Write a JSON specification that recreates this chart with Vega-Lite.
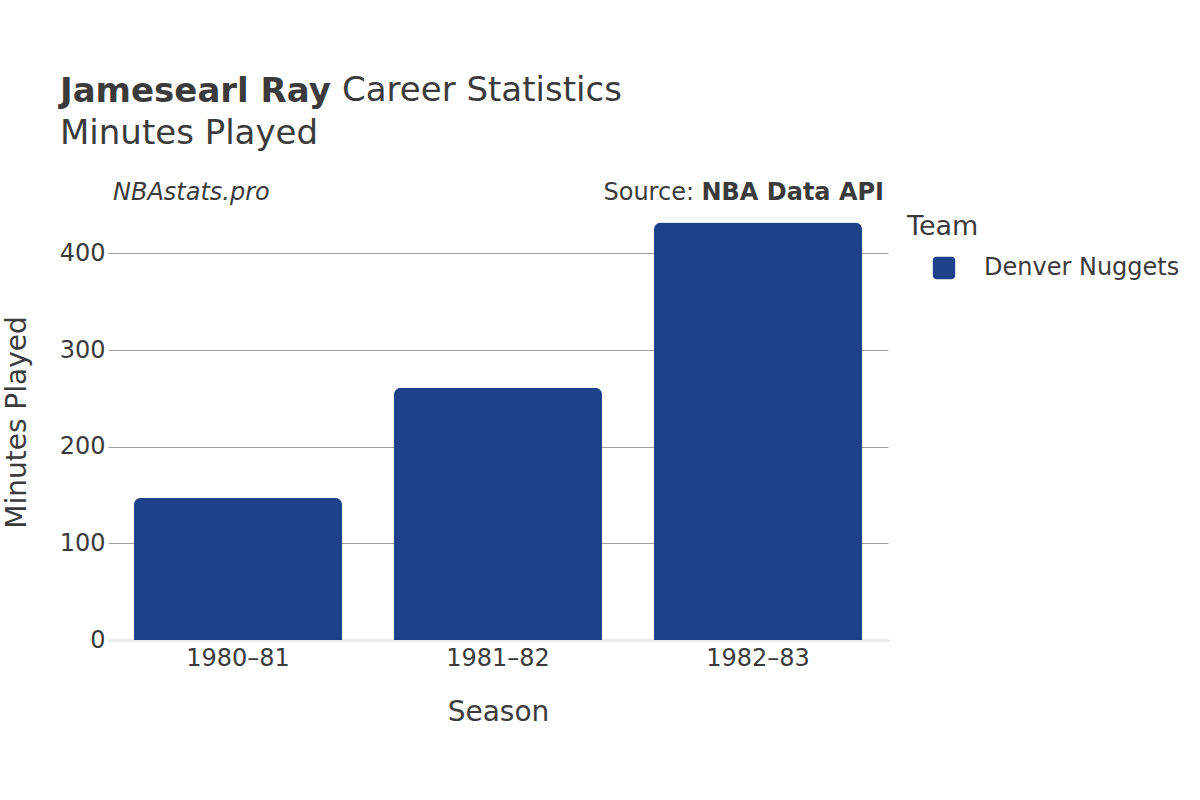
{
  "$schema": "https://vega.github.io/schema/vega-lite/v6.json",
  "width": 780,
  "height": 435,
  "autosize": {"type": "none"},
  "padding": {"left": 108, "top": 205, "right": 312, "bottom": 160},
  "background": "white",
  "config": {"font": "DejaVu Sans", "view": {"stroke": null}},
  "title": {
    "text": "Jamesearl Ray",
    "subtitle": "Minutes Played",
    "anchor": "start",
    "frame": "group",
    "dx": -48,
    "fontSize": 34,
    "fontWeight": "bold",
    "color": "#3b3b3b",
    "subtitleFontSize": 34,
    "subtitleFontWeight": "normal",
    "subtitleColor": "#3b3b3b",
    "subtitlePadding": 8,
    "offset": -77
  },
  "layer": [
    {
      "data": {"values": [
        {"season": "1980–81", "team": "Denver Nuggets", "minutes": 147},
        {"season": "1981–82", "team": "Denver Nuggets", "minutes": 261},
        {"season": "1982–83", "team": "Denver Nuggets", "minutes": 432}
      ]},
      "mark": {"type": "bar", "cornerRadiusTopLeft": 7, "cornerRadiusTopRight": 7},
      "encoding": {
        "x": {
          "field": "season", "type": "nominal", "sort": null,
          "scale": {"paddingInner": 0.2, "paddingOuter": 0.1},
          "axis": {
            "title": "Season", "titleFontSize": 28, "titleFontWeight": "normal", "titleColor": "#3b3b3b",
            "titleY": 72, "titleBaseline": "middle",
            "labelFontSize": 24, "labelColor": "#3b3b3b", "labelAngle": 0, "labelPadding": 6,
            "ticks": false, "domainColor": "#ebebeb", "domainWidth": 3.5
          }
        },
        "y": {
          "field": "minutes", "type": "quantitative",
          "scale": {"domain": [0, 450]},
          "axis": {
            "title": "Minutes Played", "titleFontSize": 28, "titleFontWeight": "normal", "titleColor": "#3b3b3b",
            "titleX": -91, "titleY": 217, "titleAngle": -90, "titleAlign": "center", "titleBaseline": "middle",
            "labelFontSize": 24, "labelColor": "#3b3b3b", "labelPadding": 3,
            "ticks": false, "domain": false, "gridColor": "#a0a0a0", "gridWidth": 1,
            "values": [0, 100, 200, 300, 400]
          }
        },
        "color": {
          "field": "team", "type": "nominal",
          "scale": {"range": ["#1d428a"]},
          "legend": {
            "title": "Team", "orient": "none", "legendX": 799, "legendY": 9,
            "titleFontSize": 27, "titleFontWeight": "normal", "titleColor": "#3b3b3b", "titlePadding": 15,
            "labelFontSize": 24, "labelColor": "#3b3b3b", "labelOffset": 28, "labelLimit": 400,
            "symbolType": "M-0.7,-1H0.7A0.3,0.3 0 0 1 1,-0.7V0.7A0.3,0.3 0 0 1 0.7,1H-0.7A0.3,0.3 0 0 1 -1,0.7V-0.7A0.3,0.3 0 0 1 -0.7,-1Z",
            "symbolSize": 500, "symbolOpacity": 1, "symbolOffset": 25, "symbolStrokeWidth": 0
          }
        }
      }
    },
    {
      "data": {"values": [{"label": "Career Statistics"}]},
      "mark": {"type": "text", "x": 234, "y": -104, "align": "left", "baseline": "alphabetic", "fontSize": 34, "color": "#3b3b3b"},
      "encoding": {"text": {"field": "label"}}
    },
    {
      "data": {"values": [{"label": "NBAstats.pro"}]},
      "mark": {"type": "text", "x": 5, "y": -5, "align": "left", "baseline": "alphabetic", "fontSize": 24, "fontStyle": "italic", "color": "#3b3b3b"},
      "encoding": {"text": {"field": "label"}}
    },
    {
      "data": {"values": [{"label": "Source:"}]},
      "mark": {"type": "text", "x": 586, "y": -5, "align": "right", "baseline": "alphabetic", "fontSize": 24, "color": "#3b3b3b"},
      "encoding": {"text": {"field": "label"}}
    },
    {
      "data": {"values": [{"label": "NBA Data API"}]},
      "mark": {"type": "text", "x": 776, "y": -5, "align": "right", "baseline": "alphabetic", "fontSize": 24, "fontWeight": "bold", "color": "#3b3b3b"},
      "encoding": {"text": {"field": "label"}}
    }
  ]
}
